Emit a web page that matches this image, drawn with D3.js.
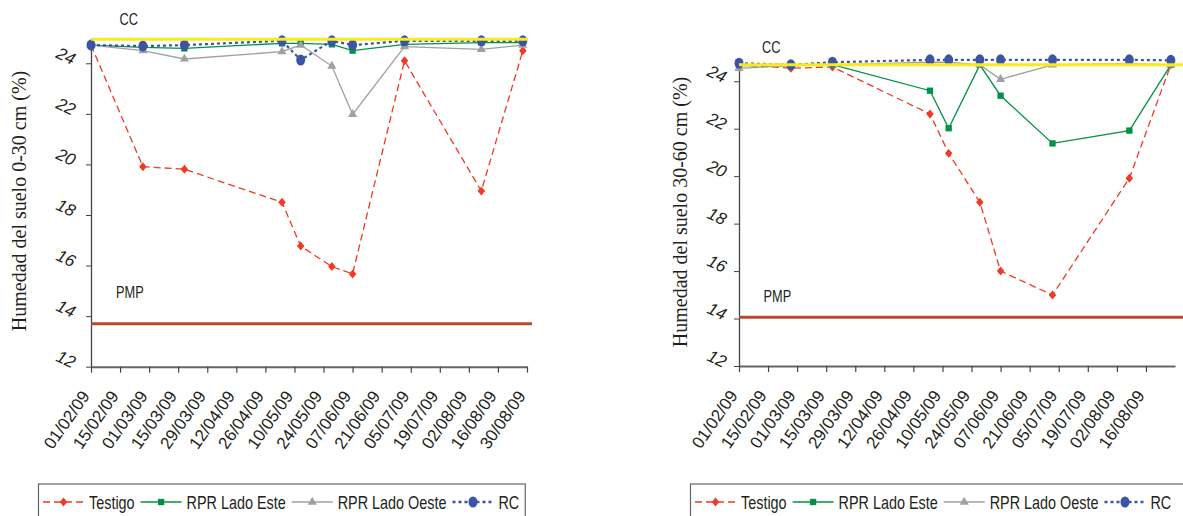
<!DOCTYPE html>
<html>
<head>
<meta charset="utf-8">
<script src="https://cdn.jsdelivr.net/npm/d3@7"></script>
<style>
  body { margin: 0; background: #fff; }
  svg { display: block; }
  .sans { font-family: "Liberation Sans", Arial, sans-serif; fill: #231f20; }
  .serif { font-family: "Liberation Serif", "Times New Roman", serif; fill: #231f20; }
</style>
</head>
<body>
<svg id="chart" width="1183" height="516"></svg>
<script>
// sampling dates (same for both depths)
const sampleDates = ["01/02/09", "26/02/09", "18/03/09", "04/05/09", "13/05/09",
  "28/05/09", "07/06/09", "02/07/09", "08/08/09", "28/08/09"];
const tickLabels = ["01/02/09", "15/02/09", "01/03/09", "15/03/09", "29/03/09",
  "12/04/09", "26/04/09", "10/05/09", "24/05/09", "07/06/09", "21/06/09",
  "05/07/09", "19/07/09", "02/08/09", "16/08/09", "30/08/09"];
const yTicks = [12, 14, 16, 18, 20, 22, 24];
const seriesNames = ["Testigo", "RPR Lado Este", "RPR Lado Oeste", "RC"];

// 0-30 cm
const testigo030 = [24.72, 19.91, 19.81, 18.5, 16.77, 15.96, 15.67, 24.1, 18.95, 24.5];
const este030 = [24.72, 24.63, 24.59, 24.79, 24.79, 24.75, 24.5, 24.75, 24.82, 24.82];
const oeste030 = [24.72, 24.5, 24.17, 24.46, 24.72, 23.89, 21.98, 24.66, 24.55, 24.72];
const rc030 = [24.72, 24.68, 24.72, 24.89, 24.13, 24.89, 24.72, 24.89, 24.89, 24.89];
const cc030 = 24.95;
const pmp030 = 13.7;

// 30-60 cm
const testigo3060 = [24.69, 24.55, 24.6, 22.62, 20.96, 18.9, 16.0, 14.99, 19.91, 24.69];
const este3060 = [24.66, 24.66, 24.7, 23.6, 22.02, 24.69, 23.39, 21.38, 21.92, 24.69];
const oeste3060 = [24.54, 24.66, 24.69, 24.8, 24.8, 24.69, 24.08, 24.69, 24.75, 24.69];
const rc3060 = [24.76, 24.69, 24.8, 24.9, 24.9, 24.9, 24.9, 24.9, 24.9, 24.88];
const cc3060 = 24.69;
const pmp3060 = 14.05;

const parse = d3.utcParse("%d/%m/%y");
const fmt = d3.utcFormat("%d/%m/%y");
const NARROW = 0.8;

const styles = [
  { color: "#ee3a26", dash: "7,4", width: 1.3, marker: "diamond" },
  { color: "#009245", dash: null, width: 1.3, marker: "square" },
  { color: "#a0a0a0", dash: null, width: 1.3, marker: "triangle" },
  { color: "#3b54a5", dash: "3,3", width: 2.2, marker: "circle" }
];

const svg = d3.select("#chart");

function narrowText(parent, x, y, str, size) {
  return parent
    .append("text")
    .attr("class", "sans")
    .attr("font-size", size)
    .attr("transform", `translate(${x},${y}) scale(${NARROW},1)`)
    .text(str);
}

function addMarker(g, type, color) {
  if (type === "circle") {
    g.append("ellipse").attr("rx", 4.5).attr("ry", 5.5).attr("fill", color);
  } else if (type === "diamond") {
    g.append("path")
      .attr("d", d3.symbol(d3.symbolSquare, 28)())
      .attr("transform", "scale(1,1.2) rotate(45)")
      .attr("fill", color);
  } else if (type === "square") {
    g.append("path").attr("d", d3.symbol(d3.symbolSquare, 40)()).attr("fill", color);
  } else {
    g.append("path").attr("d", d3.symbol(d3.symbolTriangle, 36)()).attr("fill", color);
  }
}

function drawPanel(cfg) {
  const g = svg.append("g");
  const tickDates = tickLabels.map(parse);
  const x = d3
    .scaleUtc()
    .domain([tickDates[0], tickDates[tickDates.length - 1]])
    .range([cfg.x0, cfg.x1]);
  const y = d3.scaleLinear().domain([12, 25]).range([cfg.yBottom, cfg.yTop]);

  // y axis
  const ya = g
    .append("g")
    .attr("transform", `translate(${cfg.x0},0)`)
    .call(d3.axisLeft(y).tickValues(yTicks).tickSize(5).tickSizeOuter(0));
  ya.select(".domain").attr("stroke", "#444").attr("stroke-width", 1.3);
  ya.selectAll(".tick line").attr("stroke", "#444");
  ya.selectAll(".tick text")
    .attr("class", "sans")
    .attr("x", null)
    .attr("dy", "0.35em")
    .attr("font-size", 17)
    .attr("font-style", "italic")
    .attr("text-anchor", "middle")
    .attr("transform", `translate(${cfg.yLabelDx},-8) rotate(25)`);

  // x axis
  const xa = g
    .append("g")
    .attr("transform", `translate(0,${cfg.yBottom})`)
    .call(
      d3
        .axisBottom(x)
        .tickValues(tickDates.slice(0, cfg.nTicks))
        .tickFormat(fmt)
        .tickSize(6)
        .tickSizeOuter(0)
    );
  xa.select(".domain").attr("stroke", "#666").attr("stroke-width", 2);
  xa.selectAll(".tick line").attr("stroke", "#444").attr("stroke-width", 1.2);
  xa.selectAll(".tick text")
    .attr("class", "sans")
    .attr("y", 0)
    .attr("dy", "0.35em")
    .attr("font-size", 17)
    .attr("text-anchor", "end")
    .attr("transform", "translate(-6,26) rotate(-55)");

  // axis title
  g.append("text")
    .attr("class", "serif")
    .attr("font-size", 20)
    .attr("text-anchor", "middle")
    .attr("transform", `translate(${cfg.titleX},${cfg.titleY}) rotate(-90)`)
    .text(cfg.title);

  // series
  const dates = sampleDates.map(parse);
  const line = d3
    .line()
    .x((d, i) => x(dates[i]))
    .y(d => y(d));

  cfg.series.forEach((vals, k) => {
    const st = styles[k];
    g.append("path")
      .attr("d", line(vals))
      .attr("fill", "none")
      .attr("stroke", st.color)
      .attr("stroke-width", st.width)
      .attr("stroke-dasharray", st.dash);
    vals.forEach((v, i) => {
      const m = g.append("g").attr("transform", `translate(${x(dates[i])},${y(v)})`);
      addMarker(m, st.marker, st.color);
    });
  });

  // reference lines
  g.append("line")
    .attr("x1", cfg.x0).attr("x2", cfg.pmpEnd)
    .attr("y1", y(cfg.pmp)).attr("y2", y(cfg.pmp))
    .attr("stroke", "#b8492b").attr("stroke-width", 3);
  g.append("line")
    .attr("x1", cfg.x0).attr("x2", cfg.ccEnd)
    .attr("y1", y(cfg.cc)).attr("y2", y(cfg.cc))
    .attr("stroke", "#f6ec1c").attr("stroke-width", 3);

  narrowText(g, cfg.ccX, cfg.ccY, "CC", 16);
  narrowText(g, cfg.pmpX, cfg.pmpY, "PMP", 16);

  // legend
  const lg = g.append("g");
  let cx = cfg.legendX + 4.5;
  const ly = 502;
  seriesNames.forEach((name, k) => {
    const st = styles[k];
    lg.append("line")
      .attr("x1", cx).attr("x2", cx + 41)
      .attr("y1", ly).attr("y2", ly)
      .attr("stroke", st.color)
      .attr("stroke-width", st.width + 0.3)
      .attr("stroke-dasharray", st.dash);
    addMarker(lg.append("g").attr("transform", `translate(${cx + 20.5},${ly})`), st.marker, st.color);
    const t = narrowText(lg, cx + 46, ly + 6.5, name, 18);
    cx += 46 + t.node().getComputedTextLength() * NARROW + 6;
  });
  lg.insert("rect", ":first-child")
    .attr("x", cfg.legendX)
    .attr("y", 484)
    .attr("width", cfg.legendW == null ? cx - cfg.legendX : cfg.legendW)
    .attr("height", 50)
    .attr("fill", "#fff")
    .attr("stroke", "#666")
    .attr("stroke-width", 1.2);
}

drawPanel({
  x0: 91, x1: 527, yBottom: 366.7, yTop: 38.0, nTicks: 16,
  yLabelDx: -25,
  title: "Humedad del suelo 0-30 cm (%)", titleX: 26, titleY: 201,
  series: [testigo030, este030, oeste030, rc030],
  cc: cc030, pmp: pmp030, ccEnd: 528, pmpEnd: 532,
  ccX: 119.5, ccY: 25, pmpX: 116, pmpY: 298,
  legendX: 38.5, legendW: null
});

drawPanel({
  x0: 739, x1: 1175, yBottom: 366, yTop: 57.5, nTicks: 15,
  yLabelDx: -22,
  title: "Humedad del suelo 30-60 cm (%)", titleX: 687, titleY: 212,
  series: [testigo3060, este3060, oeste3060, rc3060],
  cc: cc3060, pmp: pmp3060, ccEnd: 1183, pmpEnd: 1183,
  ccX: 762, ccY: 53, pmpX: 763.5, pmpY: 302,
  legendX: 690.5, legendW: 600
});
</script>
</body>
</html>
